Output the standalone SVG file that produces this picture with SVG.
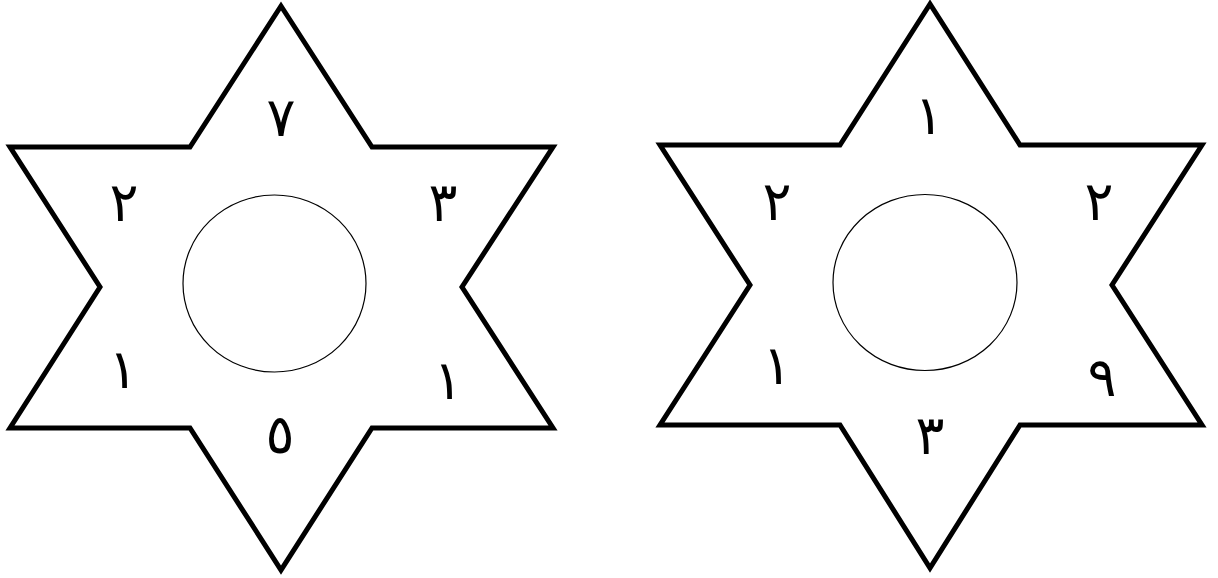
<svg xmlns="http://www.w3.org/2000/svg" width="1218" height="578" viewBox="0 0 1218 578">
<style>
.star{fill:#fff;stroke:#000;stroke-width:5;stroke-linejoin:miter}
.hole{fill:none;stroke:#000;stroke-width:1.2}
.num{font-family:"DejaVu Sans",sans-serif;font-size:54px;text-anchor:middle;fill:#000}
</style>
<rect width="1218" height="578" fill="#fff"/>
<g id="star1">
<polygon class="star" points="281,6 190,147 10,147 100,287 10,428 190,428 281,570 372,428 553,428 462,287 553,147 372,147"/>
<ellipse class="hole" cx="274.5" cy="283.5" rx="91.5" ry="88.5"/>
<text class="num" x="281" y="136">٧</text>
<text class="num" x="124" y="221">٢</text>
<text class="num" x="443" y="221">٣</text>
<text class="num" x="123" y="388">١</text>
<text class="num" x="448" y="399">١</text>
<text class="num" x="280" y="453">٥</text>
</g>
<g id="star2">
<polygon class="star" points="930,4 840,145 660,145 750,285 660,425 840,425 930,568 1020,425 1202,425 1112,285 1202,145 1020,145"/>
<ellipse class="hole" cx="925" cy="282.5" rx="92" ry="88"/>
<text class="num" x="929" y="134">١</text>
<text class="num" x="777" y="220">٢</text>
<text class="num" x="1099" y="220">٢</text>
<text class="num" x="777" y="384">١</text>
<text class="num" x="1102" y="396">٩</text>
<text class="num" x="930" y="454">٣</text>
</g>
<g id="connectors"/>
</svg>
